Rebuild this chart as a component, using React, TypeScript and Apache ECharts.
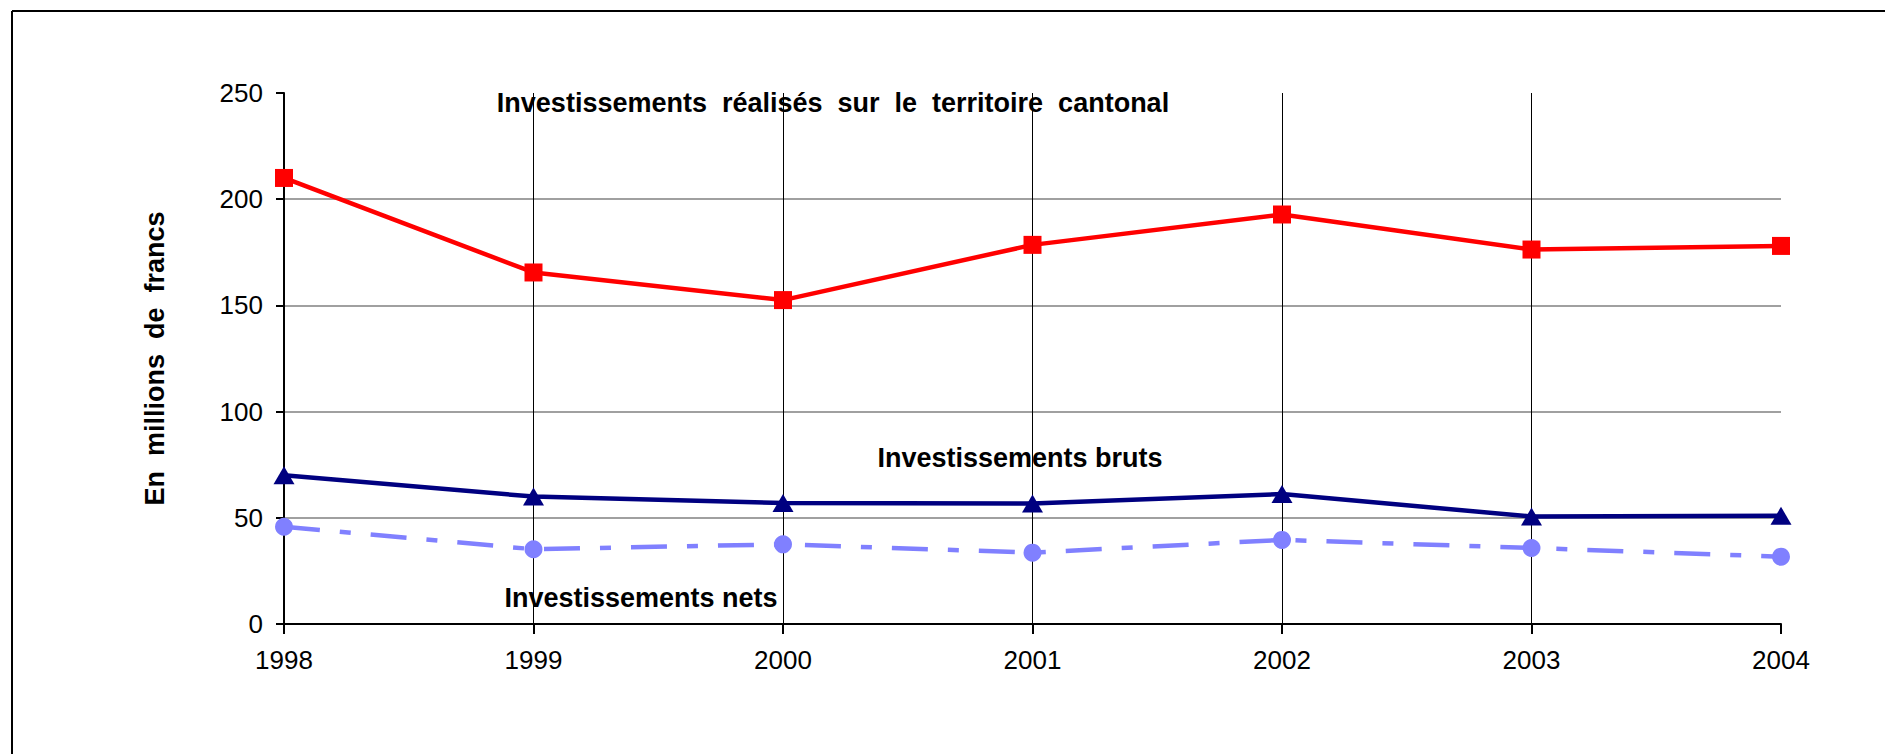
import React, { useEffect, useRef } from "react";
import * as echarts from "echarts";

const years = ["1998", "1999", "2000", "2001", "2002", "2003", "2004"];
const territoire = [210, 165.5, 152.5, 178.5, 192.8, 176.3, 178];
const bruts = [70, 60, 57, 56.7, 61.2, 50.6, 51];
const nets = [45.8, 35.2, 37.5, 33.6, 39.6, 35.8, 31.7];
const yTicks = { min: 0, max: 250, interval: 50 };

const FONT = "'Liberation Sans', Arial, sans-serif";

export default function App() {
  const ref = useRef<HTMLDivElement>(null);
  useEffect(() => {
    document.body.style.margin = "0";
    const chart = echarts.init(ref.current!, null, { renderer: "svg" });
    chart.setOption({
      animation: false,
      backgroundColor: "#ffffff",
      grid: { left: 284, right: 104, top: 93, bottom: 130, containLabel: false },
      xAxis: {
        type: "category",
        data: years,
        boundaryGap: false,
        axisLine: { show: true, lineStyle: { color: "#000", width: 2 } },
        axisTick: { show: true, length: 10, lineStyle: { color: "#000", width: 2 } },
        axisLabel: { color: "#000", fontSize: 26, fontFamily: FONT, margin: 23 },
        splitLine: {
          show: true,
          interval: (i: number) => i !== 0 && i !== years.length - 1,
          lineStyle: { color: "#000", width: 1 },
        },
      },
      yAxis: {
        type: "value",
        min: yTicks.min,
        max: yTicks.max,
        interval: yTicks.interval,
        name: "En  millions  de  francs",
        nameLocation: "middle",
        nameRotate: 90,
        nameGap: 116,
        nameTextStyle: { color: "#000", fontSize: 27, fontWeight: "bold", fontFamily: FONT },
        axisLine: { show: true, lineStyle: { color: "#000", width: 2 } },
        axisTick: { show: true, length: 8, lineStyle: { color: "#000", width: 2 } },
        axisLabel: { color: "#000", fontSize: 26, fontFamily: FONT, margin: 21 },
        splitLine: {
          show: true,
          lineStyle: {
            color: ["transparent", "#808080", "#808080", "#808080", "#808080", "transparent"],
            width: 1.5,
          },
        },
      },
      graphic: [
        { type: "line", shape: { x1: 12, y1: 11, x2: 12, y2: 760 }, style: { stroke: "#000", lineWidth: 2 } },
        { type: "line", shape: { x1: 12, y1: 11, x2: 1890, y2: 11 }, style: { stroke: "#000", lineWidth: 2 } },
        {
          type: "text",
          x: 833,
          y: 103,
          z: 100,
          style: {
            text: "Investissements  réalisés  sur  le  territoire  cantonal",
            fill: "#000",
            font: `bold 27px ${FONT}`,
            textAlign: "center",
            textVerticalAlign: "middle",
          },
        },
        {
          type: "text",
          x: 1020,
          y: 458,
          z: 100,
          style: {
            text: "Investissements bruts",
            fill: "#000",
            font: `bold 27px ${FONT}`,
            textAlign: "center",
            textVerticalAlign: "middle",
          },
        },
        {
          type: "text",
          x: 641,
          y: 598,
          z: 100,
          style: {
            text: "Investissements nets",
            fill: "#000",
            font: `bold 27px ${FONT}`,
            textAlign: "center",
            textVerticalAlign: "middle",
          },
        },
      ],
      series: [
        {
          name: "Investissements réalisés sur le territoire cantonal",
          type: "line",
          data: territoire,
          symbol: "rect",
          symbolSize: 18,
          lineStyle: { color: "#ff0000", width: 4.5 },
          itemStyle: { color: "#ff0000" },
        },
        {
          name: "Investissements bruts",
          type: "line",
          data: bruts,
          symbol: "triangle",
          symbolSize: [21, 18],
          lineStyle: { color: "#000080", width: 4.5 },
          itemStyle: { color: "#000080" },
        },
        {
          name: "Investissements nets",
          type: "line",
          data: nets,
          symbol: "circle",
          symbolSize: 18,
          lineStyle: { color: "#8080ff", width: 4.5, type: [36, 20, 11, 20] },
          itemStyle: { color: "#8080ff" },
        },
      ],
    });
    return () => chart.dispose();
  }, []);
  return <div ref={ref} style={{ width: 1885, height: 754 }} />;
}
